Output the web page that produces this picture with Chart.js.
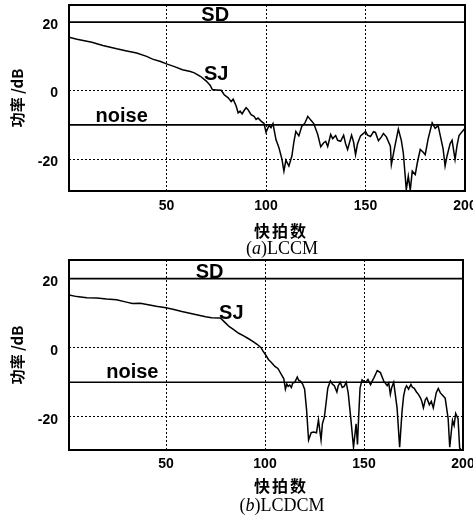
<!DOCTYPE html>
<html>
<head>
<meta charset="utf-8">
<script src="https://cdn.jsdelivr.net/npm/chart.js@4/dist/chart.umd.min.js"></script>
<style>
  body { margin: 0; background: #fff; }
  #wrap { position: relative; width: 473px; height: 516px; }
  .box { position: absolute; left: 0; width: 473px; height: 220px; }
  .xt { position: absolute; width: 200px; left: 181px; text-align: center;
        font: bold 16px "Noto Sans CJK SC"; letter-spacing: 2px; color: #000; }
  .cap { position: absolute; width: 200px; left: 182px; text-align: center;
         font: 18px "Liberation Serif"; color: #000; }
</style>
</head>
<body>
<div id="wrap">
  <div class="box" style="top:0"><canvas id="c1" width="473" height="220"></canvas></div>
  <div class="xt" style="top:218px">快拍数</div>
  <div class="cap" style="top:238px">(<i>a</i>)LCCM</div>
  <div class="box" style="top:255px"><canvas id="c2" width="473" height="220"></canvas></div>
  <div class="xt" style="top:473px">快拍数</div>
  <div class="cap" style="top:495px">(<i>b</i>)LCDCM</div>
</div>
<script>
// 快拍数 / 功率 (dB) 読み取り値

var xTicks = [50, 100, 150, 200];
var yTicks = [-20, 0, 20];
var sdLevel = 20;      // SD
var noiseLevel = -10;  // noise

// (a) LCCM
var snapA = [1, 5, 10, 12.5, 18, 25, 30, 35, 40, 43, 47, 50, 54, 58, 62, 64, 67, 70, 72, 73, 75, 77.5, 79, 81, 82.5, 83.5, 85, 86, 87, 88, 89, 90, 91, 92.5, 94, 95, 96, 97.5, 99,
  100, 101.5, 102.5, 103.5, 105, 106.5, 108, 109, 110, 111.5, 113, 114, 115, 116.5, 118, 119.5, 121, 122.5, 124, 126, 127.5, 129, 130, 131, 132.5, 133.5, 135, 136, 137.5, 139, 140,
  141, 143, 144, 145, 146, 147.5, 149, 150, 151, 152.5, 154, 155, 156.5, 158, 159, 160.5, 162.5, 163, 164.5, 166.5, 168, 169, 170.5, 171.5, 172.5, 173.5, 175, 176, 177.5, 179, 180,
  181.5, 183.5, 185, 186.5, 188, 189, 190, 191, 192.5, 193.5, 195, 196, 197, 198.5, 200];
var powerA = [15.6, 15.0, 14.4, 14.1, 13.2, 12.2, 11.6, 11.0, 10.0, 9.2, 8.5, 7.8, 7.0, 6.1, 5.6, 5.2, 4.2, 2.8, 1.5, 0.3, 0.2, 0.1, -1.2, -2.1, -3.2, -2.5, -4.5, -6.5, -6.0, -6.8, -5.8, -5.0, -5.6, -7.0, -7.5, -8.4, -8.0, -8.9, -9.6,
  -12.1, -10.2, -10.8, -9.6, -14.3, -16.7, -20, -23.5, -20.3, -22, -19.1, -15, -11.9, -13.2, -10.4, -9.5, -7.5, -8.6, -9.6, -12.8, -16.4, -15.2, -14.8, -16.3, -12.8, -14.0, -13.1, -14.5, -14.8, -13.0, -15.5,
  -17.2, -13, -15, -18.7, -15.5, -13.2, -12.5, -11.9, -13.0, -13.4, -12.0, -12.2, -14.6, -13.5, -12.5, -13.5, -16.2, -21.6, -17, -11.2, -14.5, -18.2, -28.9, -25, -29, -23.5, -24.5, -21.2, -17.2, -18, -18.7,
  -14, -9.4, -11, -10.2, -14.3, -17, -22, -19, -15.5, -14.5, -20.1, -16, -13.1, -12, -11];

// (b) LCDCM
var snapB = [1, 5, 10, 15, 20, 25, 30, 33, 37, 41.7, 45, 50, 54, 58, 62, 66, 70, 73, 77.5, 80, 82, 84, 86.7, 89, 91.7, 94, 96, 98, 99, 100.5, 101.7, 103, 105, 106.5, 108.3, 109.5,
  110.3, 111, 111.7, 112.5, 113.3, 114, 115, 116.3, 117, 118, 119, 120, 121, 122, 123.3, 124.5, 126, 127, 128.3, 129, 130, 131, 131.7, 133, 134, 135, 136.3, 137, 138, 139, 140,
  141, 142, 143.3, 144.7, 146, 146.7, 147.3, 148, 149, 150, 151, 152, 153.3, 154, 155, 156.7, 158.3, 160, 161.7, 162.5, 163.3, 164, 165, 166.7, 168, 169.2, 170, 170.8, 171.5,
  172.5, 173.7, 174.5, 175.3, 176.5, 177.5, 178.5, 179.2, 180, 181, 181.7, 183, 184, 185, 186.5, 187.5, 188.5, 189.2, 190, 191, 192.5, 193.3, 194.7, 195.5, 196.3, 197.5, 198.3, 199];
var powerB = [15.3, 14.8, 14.5, 14.4, 14.1, 13.9, 13.2, 12.8, 12.9, 12.4, 12.0, 11.6, 11.1, 10.5, 10.0, 9.5, 9.0, 8.7, 8.6, 7.2, 6.1, 5.3, 4.2, 3.5, 2.6, 1.8, 1.0, 0.0, -1.0, -2.2, -3.4, -4.1, -5.4, -6.0, -7.8, -9.0,
  -12.0, -10.5, -11.2, -10.8, -11.5, -10.2, -10.0, -8.5, -9.4, -9.7, -10.5, -12, -18, -26.7, -24.6, -24.4, -24.6, -20.9, -26.7, -22, -20, -15.2, -11.7, -9.6, -10.5, -11, -12.8, -11, -10, -11.5, -11.2,
  -10, -13, -20.3, -28.8, -22, -28, -20, -11.7, -9.3, -9.8, -10, -9.2, -10.7, -9.8, -8.7, -6.6, -7.2, -9.7, -11, -10.2, -13.5, -11.5, -10, -17.4, -28.8, -18.5, -14, -11.8, -11,
  -12, -10.6, -11.5, -11.7, -12.8, -13.5, -14.5, -15.5, -17.4, -15, -14.5, -16.5, -15.5, -17.4, -13, -11.8, -13, -13.5, -14, -14.6, -20.5, -28.8, -21, -22.5, -19, -20.5, -29, -29.5];

// 図中ラベル (データ座標)
var notesA = [{ t: 'SD', x: 74.5, y: 20.3 }, { t: 'SJ', x: 75, y: 4.7 }, { t: 'noise', x: 27.5, y: -7.6 }];
var notesB = [{ t: 'SD', x: 72, y: 20.3 }, { t: 'SJ', x: 83, y: 9.9 }, { t: 'noise', x: 33, y: -7.3 }];

function pts(xs, ys) {
    return xs.map(function (x, i) { return { x: x, y: ys[i] }; });
}

var framePlugin = {
    id: 'frame',
    afterDraw: function (chart) {
        var a = chart.chartArea, c = chart.ctx;
        c.save();
        c.strokeStyle = '#000';
        c.lineWidth = 2;
        c.strokeRect(a.left, a.top, a.right - a.left, a.bottom - a.top);
        // 図中ラベル
        var xs = chart.scales.x, ys = chart.scales.y;
        c.fillStyle = '#000';
        c.font = 'bold 20px "Liberation Sans"';
        c.textAlign = 'center';
        chart.options.plugins.frame.notes.forEach(function (n) {
            var px = xs.getPixelForValue(n.x), py = ys.getPixelForValue(n.y);
            c.textBaseline = n.t === 'SD' ? 'alphabetic' : 'middle';
            c.fillText(n.t, px, py);
        });
        c.restore();
    }
};

function makeChart(id, xs, ys, notes, yMin, yMax, padRight, xHeight, tickPad) {
    return new Chart(document.getElementById(id), {
        type: 'line',
        data: {
            datasets: [
                { data: pts(xs, ys), borderColor: '#000', borderWidth: 1.5, pointRadius: 0, tension: 0 },
                { data: [{ x: 1, y: sdLevel }, { x: 200, y: sdLevel }], borderColor: '#000', borderWidth: 1.6, pointRadius: 0 },
                { data: [{ x: 1, y: noiseLevel }, { x: 200, y: noiseLevel }], borderColor: '#000', borderWidth: 1.6, pointRadius: 0 }
            ]
        },
        options: {
            responsive: false,
            animation: false,
            layout: { padding: { top: 5, right: padRight, left: 0, bottom: 0 } },
            plugins: { legend: false, tooltip: { enabled: false }, frame: { notes: notes } },
            scales: {
                x: {
                    type: 'linear', min: 1, max: 200,
                    afterBuildTicks: function (s) { s.ticks = xTicks.map(function (v) { return { value: v }; }); },
                    afterFit: function (s) { s.height = xHeight; s.paddingLeft = 0; s.paddingRight = 0; },
                    grid: { color: '#000', lineWidth: 1, drawTicks: false },
                    border: { display: false, dash: [2, 2] },
                    ticks: { color: '#000', padding: tickPad, maxRotation: 0, font: { family: 'Liberation Sans', weight: 'bold', size: 14 } }
                },
                y: {
                    min: yMin, max: yMax,
                    afterBuildTicks: function (s) { s.ticks = yTicks.map(function (v) { return { value: v }; }); },
                    afterFit: function (s) { s.width = 69; s.paddingTop = 0; s.paddingBottom = 0; },
                    grid: { color: '#000', lineWidth: 1, drawTicks: false },
                    border: { display: false, dash: [2, 2] },
                    ticks: { color: '#000', padding: 11, labelOffset: 3, font: { family: 'Liberation Sans', weight: 'bold', size: 14 } },
                    title: {
                        display: true, text: '功率 /dB', color: '#000',
                        padding: { top: 8, bottom: 0 },
                        font: { family: 'Noto Sans CJK SC', weight: 'bold', size: 15 }
                    }
                }
            }
        },
        plugins: [framePlugin]
    });
}

makeChart('c1', snapA, powerA, notesA, -29.3, 25, 8, 29, 7);
makeChart('c2', snapB, powerB, notesB, -29.6, 25.4, 10, 25, 6);
</script>
</body>
</html>
